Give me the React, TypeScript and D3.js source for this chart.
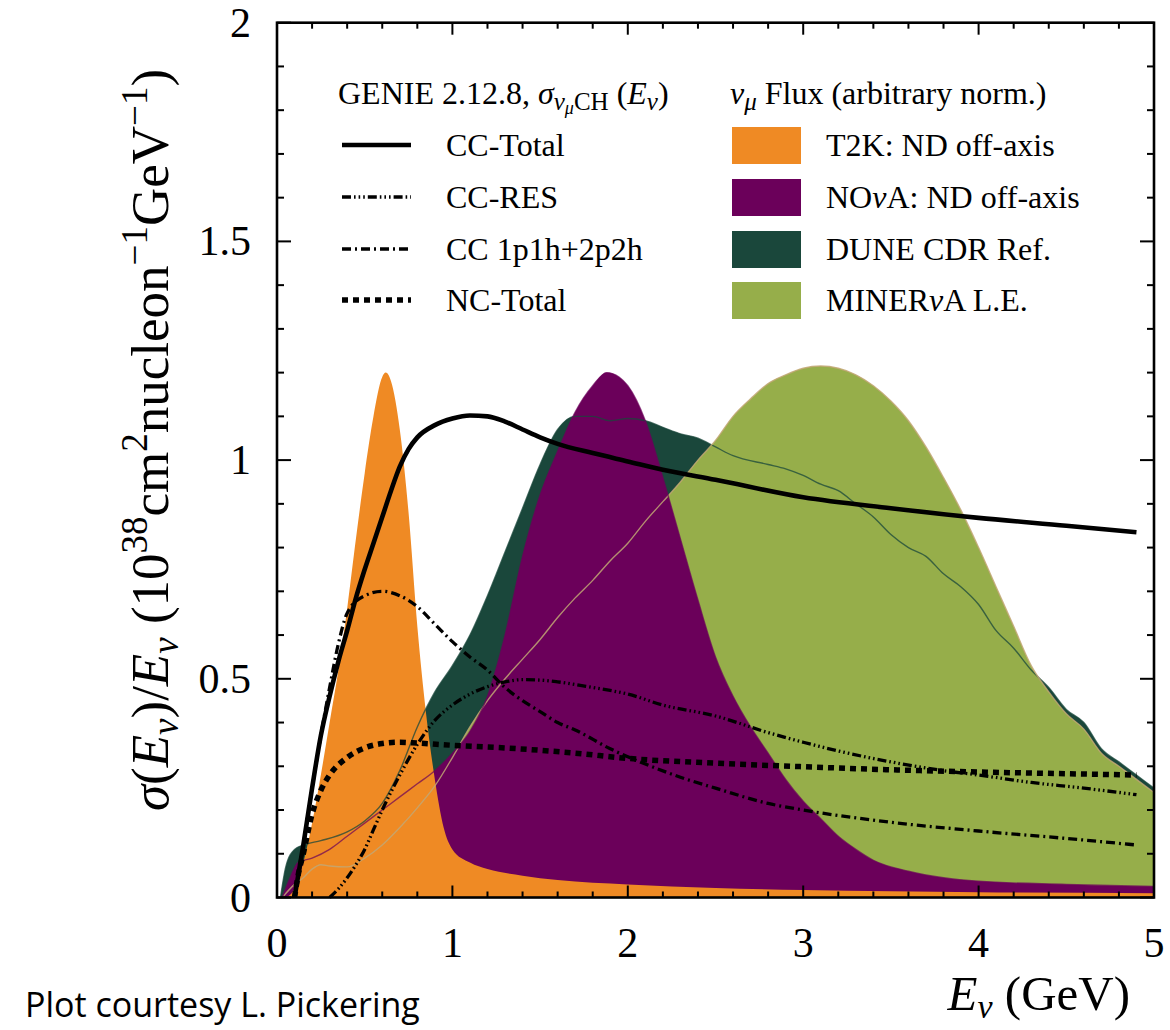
import React from 'react';
import * as d3 from 'd3';

type Pt = [number, number];

// flux shapes (arbitrary norm.), [E_nu GeV, value]
const t2kFlux: Pt[] = [
  [0.05, 0], [0.1, 0.02], [0.15, 0.08], [0.2, 0.17], [0.25, 0.28], [0.3, 0.4], [0.35, 0.52],
  [0.4, 0.66], [0.45, 0.82], [0.5, 0.97], [0.55, 1.1], [0.6, 1.19], [0.62, 1.2], [0.65, 1.18],
  [0.7, 1.07], [0.75, 0.88], [0.8, 0.62], [0.85, 0.42], [0.9, 0.27], [0.95, 0.16], [1.0, 0.11],
  [1.1, 0.08], [1.2, 0.065], [1.4, 0.05], [1.6, 0.04], [2.0, 0.03], [2.5, 0.022], [3.0, 0.017],
  [4.0, 0.012], [5.0, 0.01],
];

const novaFlux: Pt[] = [
  [0.03, 0], [0.08, 0.05], [0.12, 0.08], [0.2, 0.09], [0.3, 0.11], [0.4, 0.14], [0.5, 0.17],
  [0.6, 0.2], [0.7, 0.23], [0.8, 0.26], [0.9, 0.29], [1.0, 0.33], [1.1, 0.38], [1.2, 0.46],
  [1.3, 0.6], [1.4, 0.78], [1.5, 0.92], [1.6, 1.02], [1.7, 1.11], [1.8, 1.17], [1.88, 1.2],
  [1.95, 1.19], [2.0, 1.17], [2.1, 1.09], [2.2, 0.96], [2.3, 0.82], [2.4, 0.68], [2.5, 0.55],
  [2.6, 0.46], [2.7, 0.39], [2.8, 0.33], [2.9, 0.27], [3.0, 0.22], [3.1, 0.18], [3.2, 0.14],
  [3.3, 0.11], [3.4, 0.085], [3.6, 0.06], [3.8, 0.045], [4.0, 0.037], [4.5, 0.03], [5.0, 0.025],
];

const duneFlux: Pt[] = [
  [0.02, 0], [0.05, 0.07], [0.1, 0.11], [0.15, 0.12], [0.25, 0.13], [0.4, 0.15], [0.5, 0.175],
  [0.6, 0.215], [0.7, 0.29], [0.8, 0.39], [0.9, 0.47], [1.0, 0.53], [1.1, 0.6], [1.2, 0.69],
  [1.3, 0.79], [1.4, 0.89], [1.5, 0.99], [1.6, 1.07], [1.7, 1.1], [1.8, 1.1], [1.9, 1.09],
  [2.0, 1.095], [2.1, 1.09], [2.2, 1.075], [2.3, 1.06], [2.4, 1.05], [2.5, 1.03], [2.6, 1.01],
  [2.8, 0.99], [2.9, 0.98], [3.0, 0.965], [3.1, 0.945], [3.2, 0.93], [3.3, 0.9], [3.4, 0.87],
  [3.5, 0.83], [3.6, 0.8], [3.7, 0.78], [3.8, 0.74], [3.9, 0.71], [4.0, 0.67], [4.1, 0.61],
  [4.2, 0.57], [4.3, 0.52], [4.4, 0.48], [4.5, 0.43], [4.6, 0.4], [4.7, 0.34], [4.8, 0.31],
  [4.9, 0.28], [5.0, 0.25],
];

const minervaFlux: Pt[] = [
  [0.03, 0], [0.1, 0.03], [0.15, 0.045], [0.2, 0.065], [0.25, 0.075], [0.3, 0.072], [0.4, 0.07],
  [0.5, 0.09], [0.6, 0.12], [0.7, 0.16], [0.8, 0.205], [0.9, 0.255], [1.0, 0.32], [1.1, 0.39],
  [1.2, 0.45], [1.3, 0.5], [1.4, 0.545], [1.5, 0.59], [1.6, 0.64], [1.7, 0.685], [1.8, 0.725],
  [1.9, 0.77], [2.0, 0.81], [2.1, 0.86], [2.2, 0.905], [2.3, 0.95], [2.4, 1.0], [2.5, 1.045],
  [2.6, 1.1], [2.7, 1.14], [2.8, 1.175], [2.9, 1.195], [3.0, 1.21], [3.1, 1.215], [3.2, 1.21],
  [3.3, 1.195], [3.4, 1.17], [3.5, 1.135], [3.6, 1.09], [3.7, 1.03], [3.8, 0.96], [3.9, 0.885],
  [4.0, 0.8], [4.1, 0.71], [4.2, 0.62], [4.3, 0.53], [4.4, 0.47], [4.5, 0.42], [4.6, 0.385],
  [4.7, 0.33], [4.8, 0.3], [4.9, 0.27], [5.0, 0.24],
];

// GENIE sigma/E, 1e-38 cm2/nucleon/GeV
const ccTotal: Pt[] = [
  [0.1, 0], [0.15, 0.12], [0.2, 0.25], [0.25, 0.37], [0.3, 0.46], [0.35, 0.54], [0.4, 0.61],
  [0.45, 0.685], [0.5, 0.75], [0.55, 0.81], [0.6, 0.87], [0.65, 0.93], [0.7, 0.985], [0.75, 1.025],
  [0.8, 1.052], [0.9, 1.08], [1.0, 1.095], [1.1, 1.102], [1.2, 1.1], [1.3, 1.088], [1.4, 1.07],
  [1.5, 1.052], [1.6, 1.037], [1.8, 1.016], [2.0, 0.997], [2.2, 0.978], [2.5, 0.955],
  [3.0, 0.915], [3.5, 0.89], [4.0, 0.868], [4.5, 0.85], [4.9, 0.835],
];

const ccRes: Pt[] = [
  [0.3, 0], [0.35, 0.02], [0.4, 0.045], [0.45, 0.075], [0.5, 0.11], [0.55, 0.155], [0.6, 0.2],
  [0.7, 0.28], [0.8, 0.35], [0.9, 0.405], [1.0, 0.44], [1.1, 0.465], [1.2, 0.482], [1.3, 0.493],
  [1.4, 0.498], [1.5, 0.497], [1.6, 0.493], [1.8, 0.48], [2.0, 0.465], [2.2, 0.44], [2.5, 0.415],
  [2.8, 0.377], [3.0, 0.355], [3.2, 0.335], [3.5, 0.31], [3.8, 0.29], [4.0, 0.28], [4.3, 0.263],
  [4.6, 0.25], [4.9, 0.235],
];

const cc1p1h2p2h: Pt[] = [
  [0.1, 0], [0.15, 0.12], [0.2, 0.25], [0.25, 0.37], [0.3, 0.48], [0.35, 0.58], [0.4, 0.65],
  [0.5, 0.69], [0.6, 0.7], [0.7, 0.69], [0.8, 0.665], [0.9, 0.625], [1.0, 0.585], [1.1, 0.55],
  [1.2, 0.52], [1.3, 0.48], [1.4, 0.45], [1.5, 0.425], [1.6, 0.4], [1.7, 0.383], [1.9, 0.34],
  [2.1, 0.305], [2.3, 0.275], [2.5, 0.25], [2.8, 0.215], [3.0, 0.2], [3.5, 0.172], [4.0, 0.152],
  [4.5, 0.135], [4.9, 0.12],
];

const ncTotal: Pt[] = [
  [0.1, 0], [0.12, 0.05], [0.15, 0.1], [0.2, 0.19], [0.25, 0.245], [0.3, 0.28], [0.4, 0.32],
  [0.5, 0.342], [0.6, 0.352], [0.7, 0.355], [0.8, 0.353], [1.0, 0.348], [1.3, 0.342], [1.7, 0.33],
  [2.0, 0.318], [2.5, 0.307], [3.0, 0.299], [3.5, 0.292], [4.0, 0.287], [4.5, 0.283], [4.9, 0.28],
];

const xTickLabels = [0, 1, 2, 3, 4, 5];
const yTickLabels = [0, 0.5, 1, 1.5, 2];

const lineNames = ['CC-Total', 'CC-RES', 'CC 1p1h+2p2h', 'NC-Total'];
const fluxNames = ['T2K: ND off-axis', 'NOνA: ND off-axis', 'DUNE CDR Ref.', 'MINERνA L.E.'];

const ORANGE = '#ef8a24';
const PURPLE = '#6b005a';
const DKGREEN = '#1a473b';
const LTGREEN = '#96ae4a';

const W = 1170;
const H = 1030;
const M = { left: 277, right: 1154, top: 22.7, bottom: 897.5 };

const x = d3.scaleLinear().domain([0, 5]).range([M.left, M.right]);
const y = d3.scaleLinear().domain([0, 2]).range([M.bottom, M.top]);

const area = d3.area<Pt>().x(d => x(d[0])).y0(y(0)).y1(d => y(d[1])).curve(d3.curveMonotoneX);
const line = d3.line<Pt>().x(d => x(d[0])).y(d => y(d[1])).curve(d3.curveMonotoneX);

// italic nu inside plain text
function nuText(s: string) {
  return s.split('ν').map((part, i) => (
    <React.Fragment key={i}>
      {i > 0 && <tspan fontStyle="italic">ν</tspan>}
      {part}
    </React.Fragment>
  ));
}

export default function App() {
  const fills = [
    { data: duneFlux, color: DKGREEN },
    { data: minervaFlux, color: LTGREEN },
    { data: novaFlux, color: PURPLE },
    { data: t2kFlux, color: ORANGE },
  ];
  const outlines = [
    { data: duneFlux, color: DKGREEN, op: 0.75 },
    { data: minervaFlux, color: '#c2a774', op: 0.85 },
    { data: novaFlux, color: PURPLE, op: 0.7 },
  ];
  const lineStyles = [
    { data: ccTotal, w: 4.6, dash: 'none' },
    { data: ccRes, w: 3.3, dash: '9 3 1.6 3 1.6 3 1.6 3' },
    { data: cc1p1h2p2h, w: 3.3, dash: '9 4 2 4' },
    { data: ncTotal, w: 5.5, dash: '6 5' },
  ];
  const swatchColors = [ORANGE, PURPLE, DKGREEN, LTGREEN];
  const rows = [145, 197, 249, 300];

  const xMinor = d3.range(0, 5.0001, 0.2);
  const yMinor = d3.range(0, 2.0001, 0.1);
  const isMajorX = (v: number) => Math.abs(v - Math.round(v)) < 1e-6;
  const isMajorY = (v: number) => Math.abs(v * 2 - Math.round(v * 2)) < 1e-6;

  return (
    <svg width={W} height={H} style={{ position: 'absolute', left: 0, top: 0, background: '#fff' }}
      fontFamily="'Liberation Serif', 'Times New Roman', serif">
      {fills.map((f, i) => (
        <path key={i} d={area(f.data) || ''} fill={f.color} />
      ))}
      {outlines.map((f, i) => (
        <path key={i} d={line(f.data) || ''} fill="none" stroke={f.color} strokeWidth={1.4} strokeOpacity={f.op} />
      ))}

      {lineStyles.map((l, i) => (
        <path key={i} d={line(l.data) || ''} fill="none" stroke="#000" strokeWidth={l.w}
          strokeDasharray={l.dash} strokeLinejoin="round" />
      ))}

      {/* ticks on all four sides */}
      <g stroke="#000" strokeWidth={2}>
        {xMinor.map((v, i) => {
          const len = isMajorX(v) ? 12 : 6;
          return (
            <g key={i}>
              <line x1={x(v)} x2={x(v)} y1={M.bottom} y2={M.bottom - len} />
              <line x1={x(v)} x2={x(v)} y1={M.top} y2={M.top + len} />
            </g>
          );
        })}
        {yMinor.map((v, i) => {
          const len = isMajorY(v) ? 14 : 7;
          return (
            <g key={i}>
              <line x1={M.left} x2={M.left + len} y1={y(v)} y2={y(v)} />
              <line x1={M.right} x2={M.right - len} y1={y(v)} y2={y(v)} />
            </g>
          );
        })}
      </g>
      <rect x={M.left} y={M.top} width={M.right - M.left} height={M.bottom - M.top}
        fill="none" stroke="#000" strokeWidth={2.6} />

      {/* tick labels */}
      <g fontSize={42} fill="#000">
        {xTickLabels.map(v => (
          <text key={v} x={x(v)} y={957} textAnchor="middle">{v}</text>
        ))}
        {yTickLabels.map(v => (
          <text key={v} x={251} y={y(v) + 14} textAnchor="end">{v}</text>
        ))}
      </g>

      {/* axis titles */}
      <text transform="translate(168,440) rotate(-90)" textAnchor="middle" fontSize={53}>
        <tspan fontStyle="italic">σ</tspan>
        <tspan>(</tspan>
        <tspan fontStyle="italic">E</tspan>
        <tspan fontStyle="italic" fontSize={37} dy={10}>ν</tspan>
        <tspan dy={-10}>)/</tspan>
        <tspan fontStyle="italic">E</tspan>
        <tspan fontStyle="italic" fontSize={37} dy={10}>ν</tspan>
        <tspan dy={-10}>{' (10'}</tspan>
        <tspan fontSize={37} dy={-21}>38</tspan>
        <tspan dy={21}>cm</tspan>
        <tspan fontSize={37} dy={-21}>2</tspan>
        <tspan dy={21}>nucleon</tspan>
        <tspan fontSize={37} dy={-21}>−1</tspan>
        <tspan dy={21}>GeV</tspan>
        <tspan fontSize={37} dy={-21}>−1</tspan>
        <tspan dy={21}>)</tspan>
      </text>
      <text x={1130} y={1010} textAnchor="end" fontSize={49}>
        <tspan fontStyle="italic">E</tspan>
        <tspan fontStyle="italic" fontSize={34} dy={8}>ν</tspan>
        <tspan dy={-8}>{' (GeV)'}</tspan>
      </text>

      {/* legend */}
      <g fontSize={32} fill="#000">
        <text x={338} y={104}>
          <tspan>{'GENIE 2.12.8, '}</tspan>
          <tspan fontStyle="italic">σ</tspan>
          <tspan fontSize={25} dy={6} fontStyle="italic">ν</tspan>
          <tspan fontSize={18} dy={4} fontStyle="italic">μ</tspan>
          <tspan fontSize={25} dy={-4}>CH</tspan>
          <tspan dy={-6}>{' ('}</tspan>
          <tspan fontStyle="italic">E</tspan>
          <tspan fontSize={25} dy={6} fontStyle="italic">ν</tspan>
          <tspan dy={-6}>)</tspan>
        </text>
        <text x={730} y={104}>
          <tspan fontStyle="italic">ν</tspan>
          <tspan fontSize={25} dy={6} fontStyle="italic">μ</tspan>
          <tspan dy={-6}>{' Flux (arbitrary norm.)'}</tspan>
        </text>

        {lineNames.map((name, i) => (
          <g key={name}>
            <line x1={342} x2={411} y1={rows[i]} y2={rows[i]} stroke="#000"
              strokeWidth={lineStyles[i].w} strokeDasharray={lineStyles[i].dash} />
            <text x={446} y={rows[i] + 11}>{name}</text>
          </g>
        ))}
        {fluxNames.map((name, i) => (
          <g key={name}>
            <rect x={732} y={rows[i] - 18} width={69} height={37} fill={swatchColors[i]} />
            <text x={826} y={rows[i] + 11}>{nuText(name)}</text>
          </g>
        ))}
      </g>

      <text x={25} y={1017} fontFamily="'Open Sans', Lato, sans-serif" fontSize={34} fill="#000">
        Plot courtesy L. Pickering
      </text>
    </svg>
  );
}
